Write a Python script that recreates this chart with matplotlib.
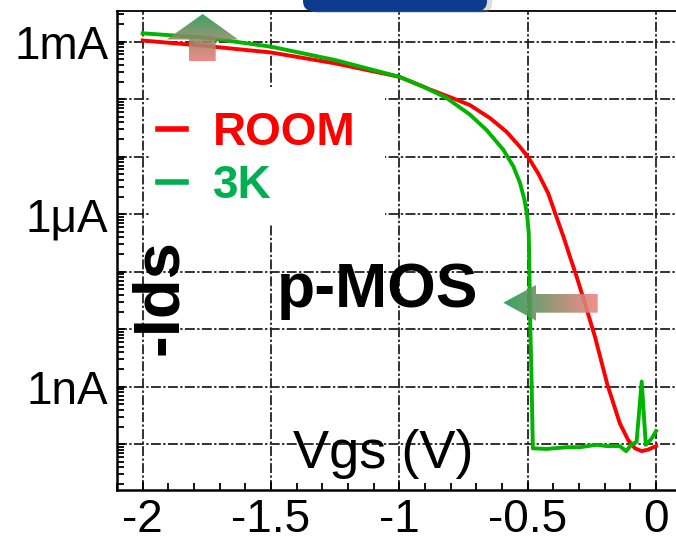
import numpy as np
import matplotlib
matplotlib.use('Agg')
import matplotlib.pyplot as plt
from matplotlib.lines import Line2D
from matplotlib.patches import Polygon, FancyBboxPatch, Rectangle
from matplotlib.colors import to_rgb
from matplotlib.ticker import LogLocator, MultipleLocator, FuncFormatter, NullFormatter, FixedLocator

plt.rcParams['font.family'] = ['Liberation Sans', 'DejaVu Sans']

# ROOM temperature curve (Vgs in V, -Ids in A)
vgs_room = [-2.0, -1.75, -1.5, -1.25, -1.0, -0.881, -0.777, -0.725, -0.647, -0.582, -0.53,
            -0.498, -0.459, -0.42, -0.39, -0.361, -0.335, -0.309, -0.277, -0.238, -0.19,
            -0.141, -0.108, -0.082, -0.056, -0.03, 0.0]
ids_room = [1.05e-3, 8.4e-4, 6.5e-4, 4.2e-4, 2.45e-4, 1.48e-4, 9.8e-5, 7.9e-5, 4.7e-5, 2.7e-5, 1.48e-5,
            9.8e-6, 5.1e-6, 2.3e-6, 9.5e-7, 4.1e-7, 1.8e-7, 8.1e-8, 2.8e-8, 7.4e-9, 1.1e-9,
            2.3e-10, 1.17e-10, 8.5e-11, 7.6e-11, 8.1e-11, 9.3e-11]

# 3K curve
vgs_3k = [-2.0, -1.75, -1.5, -1.25, -1.0, -0.907, -0.816, -0.725, -0.66, -0.595, -0.556,
          -0.53, -0.513, -0.502, -0.496, -0.494, -0.491, -0.485, -0.48, -0.426, -0.348,
          -0.296, -0.231, -0.192, -0.141, -0.117, -0.095, -0.076, -0.056, -0.04, -0.017, 0.0]
ids_3k = [1.4e-3, 1.17e-3, 8.2e-4, 4.8e-4, 2.45e-4, 1.66e-4, 1.05e-4, 5.4e-5, 2.9e-5, 1.32e-5, 6.8e-6,
          3.5e-6, 1.8e-6, 9.5e-7, 4.7e-7, 1.6e-7, 1.9e-8, 1.3e-9, 8.5e-11, 8.3e-11, 8.9e-11,
          8.9e-11, 9.8e-11, 9.3e-11, 9.3e-11, 7.6e-11, 1.0e-10, 1.1e-10, 1.23e-9, 9.8e-11, 1.26e-10, 1.7e-10]

series_labels = ['ROOM', '3K']
line_colors = ['#ff0000', '#00b400']
legend_colors = ['#ff0000', '#00b050']

x_ticks = [-2, -1.5, -1, -0.5, 0]
x_tick_labels = ['-2', '-1.5', '-1', '-0.5', '0']
y_label_values = [1e-3, 1e-6, 1e-9]
y_tick_labels = ['1mA', '1\u03bcA', '1nA']

W, H = 676, 541
fig = plt.figure(figsize=(W / 100, H / 100), dpi=100)
ax = fig.add_axes([116.7 / W, (H - 490) / H, (W - 116.7) / W, 479 / H])

ax.plot(vgs_room, ids_room, color=line_colors[0], lw=2.8, zorder=3)
ax.plot(vgs_3k, ids_3k, color=line_colors[1], lw=2.8, zorder=3)

ax.set_yscale('log')
ax.set_xlim(-2.101, 0.0776)
ax.set_ylim(10 ** -10.795, 10 ** -2.466)

ax.xaxis.set_major_locator(FixedLocator(x_ticks))
ax.set_xticklabels(x_tick_labels)
ax.xaxis.set_minor_locator(MultipleLocator(0.1))

ax.yaxis.set_major_locator(LogLocator(base=10, numticks=20))
ax.yaxis.set_minor_locator(LogLocator(base=10, subs=np.arange(2, 10), numticks=20))
ax.yaxis.set_minor_formatter(NullFormatter())


def ylab(v, pos):
    for val, lab in zip(y_label_values, y_tick_labels):
        if abs(np.log10(v) - np.log10(val)) < 0.01:
            return lab
    return ''


ax.yaxis.set_major_formatter(FuncFormatter(ylab))

ax.tick_params(which='both', direction='in', top=False, right=False, width=1.3, labelsize=33)
ax.tick_params(which='major', length=6)
ax.tick_params(which='minor', length=5)
ax.tick_params(axis='x', pad=6)
ax.tick_params(axis='y', pad=6)

ax.grid(True, which='major', color='#222222', lw=1.3, ls=(0, (5.5, 1.3, 1.3, 1.3)))
ax.spines['right'].set_visible(False)
ax.spines['left'].set_linewidth(1.8)
ax.spines['bottom'].set_linewidth(1.8)
ax.spines['top'].set_linewidth(1.3)

# white box under the legend hides the grid
ax.add_patch(Rectangle((0.0595, 0.5553), 0.42, 0.286, transform=ax.transAxes,
                       facecolor='white', edgecolor='none', zorder=1.8))

handles = [Line2D([], [], color=c, lw=4) for c in legend_colors]
ax.legend(handles, series_labels, loc='upper left', bbox_to_anchor=(158 / W, 1 - 111 / H),
          bbox_transform=fig.transFigure, frameon=False, borderpad=0, borderaxespad=0,
          handlelength=0.61, handletextpad=0.59, labelspacing=0.2,
          prop=dict(weight='bold', size=33), labelcolor=legend_colors)

# overlay in pixel coordinates for the slide decorations
ov = fig.add_axes([0, 0, 1, 1])
ov.patch.set_visible(False)
ov.axis('off')


def gradient_arrow(pts, c0, c1, extent, horizontal):
    poly = Polygon(pts, closed=True, facecolor='none', edgecolor='none')
    ov.add_patch(poly)
    t = np.linspace(0, 1, 256)[:, None]
    grad = np.array(to_rgb(c0))[None, :] * (1 - t) + np.array(to_rgb(c1))[None, :] * t
    img = grad[None, :, :] if horizontal else grad[:, None, :]
    im = ov.imshow(img, extent=extent, aspect='auto', interpolation='bilinear', alpha=0.9, zorder=4)
    im.set_clip_path(poly)


gradient_arrow([(202.7, 14), (238.3, 39.5), (215.7, 39.5), (215.7, 61), (189, 61), (189, 39.5), (166.7, 39.5)],
               '#1e9b50', '#f47a7a', (166, 239, 61, 14), False)
gradient_arrow([(503.3, 302.7), (536, 285), (536, 294), (597.7, 294), (597.7, 312.7), (536, 312.7), (536, 320.7)],
               '#1e9b50', '#f58080', (503, 598, 321, 284), True)

ov.add_patch(FancyBboxPatch((308, -20), 184, 33, boxstyle='round,pad=0,rounding_size=10',
                            facecolor='#999999', edgecolor='none', alpha=0.35, zorder=4))
ov.add_patch(FancyBboxPatch((303, -22), 184, 33, boxstyle='round,pad=0,rounding_size=10',
                            facecolor='#0d3b8e', edgecolor='none', zorder=5))

ov.text(383.5, 468, 'Vgs (V)', fontsize=39, ha='center', va='baseline', zorder=6)
ov.text(378, 307, 'p-MOS', fontsize=45, fontweight='bold', ha='center', va='baseline', zorder=6)
ov.text(177, 297, '-Ids', fontsize=47, fontweight='bold', rotation=90, rotation_mode='anchor',
        ha='center', va='baseline', zorder=6)

ov.set_xlim(0, W)
ov.set_ylim(H, 0)

fig.savefig('out.png', dpi=100)
